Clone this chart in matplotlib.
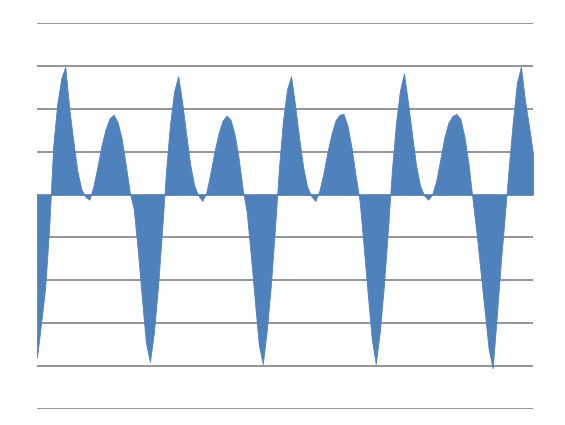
"""Dense column-style area chart: periodic waveform with gridlines, no axis labels."""
import matplotlib
matplotlib.use("Agg")
import matplotlib.pyplot as plt
import numpy as np

# values, left to right (about one per 4 px)
values = [
    -3.8, -3.0, -2.2, -0.8, 1.1, 2.1, 2.7, 2.98, 2.0, 1.25,
    0.55, 0.12, -0.05, -0.12, 0.2, 0.65, 1.15, 1.52, 1.78, 1.86,
    1.68, 1.3, 0.7, 0.05, -0.35, -1.3, -2.4, -3.45, -3.9, -3.2,
    -2.15, -0.85, 0.55, 1.65, 2.4, 2.76, 2.15, 1.4, 0.7, 0.2,
    -0.02, -0.15, 0.05, 0.5, 1.0, 1.42, 1.72, 1.84, 1.74, 1.4,
    0.85, 0.12, -0.4, -1.4, -2.45, -3.5, -3.95, -3.15, -2.1, -0.8,
    0.62, 1.72, 2.45, 2.76, 2.08, 1.32, 0.64, 0.18, -0.03, -0.15,
    0.08, 0.48, 0.98, 1.4, 1.72, 1.86, 1.88, 1.6, 1.1, 0.45,
    -0.15, -1.2, -2.3, -3.35, -3.95, -3.2, -2.15, -0.85, 0.55, 1.65,
    2.42, 2.82, 2.15, 1.4, 0.68, 0.2, -0.02, -0.12, 0.0, 0.32,
    0.82, 1.32, 1.67, 1.83, 1.88, 1.76, 1.35, 0.72, -0.1, -0.9,
    -1.8, -2.7, -3.6, -4.05, -2.85, -1.6, -0.5, 0.65, 1.7, 2.6,
    2.98, 2.2, 1.6, 0.95,
]
y_ticks = [-5, -4, -3, -2, -1, 0, 1, 2, 3, 4]

fig = plt.figure(figsize=(5.65, 4.25), dpi=100)
fig.patch.set_facecolor("white")
ax = fig.add_axes([37 / 565, 16 / 425, 496 / 565, 386 / 425])

x = np.arange(len(values))
ax.fill_between(x, 0, values, color="#4f81bd", lw=0.6, edgecolor="#4f81bd", zorder=3)

ax.set_xlim(0, len(values) - 1)
ax.set_ylim(-5, 4)
ax.set_yticks(y_ticks)
ax.yaxis.grid(True, color="#8c8c8c", lw=1.3, zorder=1)
ax.set_axisbelow(True)
ax.tick_params(left=False, bottom=False, labelleft=False, labelbottom=False)
for s in ax.spines.values():
    s.set_visible(False)

plt.savefig("out.png", dpi=100, facecolor="white")
